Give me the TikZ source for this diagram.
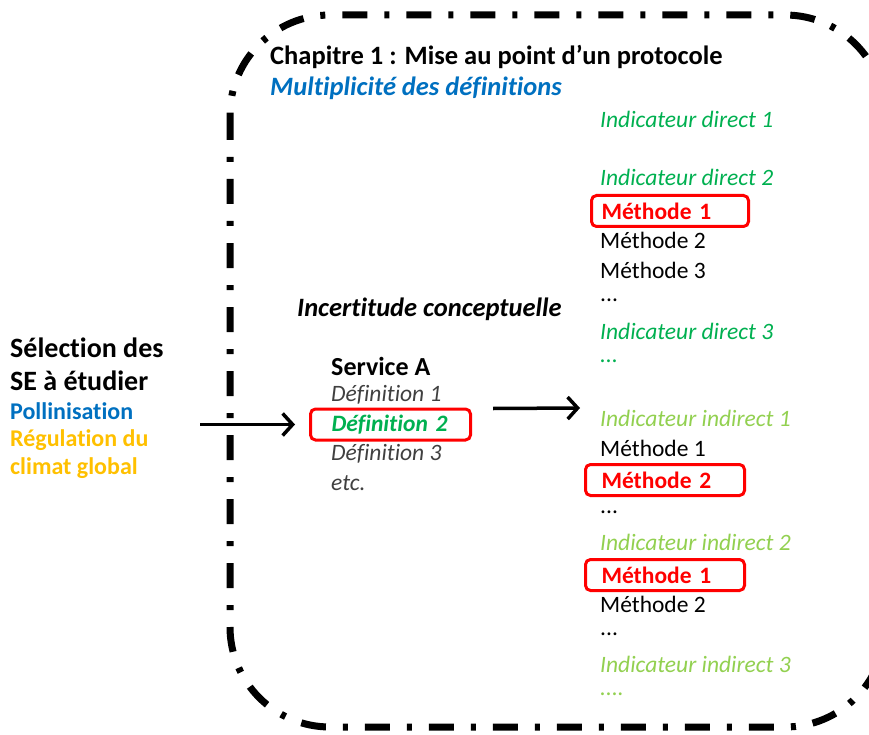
\documentclass[tikz,border=0pt]{standalone}
\usepackage{fontspec}
\setmainfont{Carlito}[Ligatures=NoCommon]
\usetikzlibrary{arrows.meta,calc}

\definecolor{pollblue}{HTML}{0070C0}
\definecolor{climorange}{HTML}{FFC000}
\definecolor{dirgreen}{HTML}{00B050}
\definecolor{indgreen}{HTML}{92D050}
\definecolor{boxred}{HTML}{FF0000}
\definecolor{defgray}{HTML}{404040}

\newcommand{\txtsize}{\fontsize{23.5}{28}\selectfont}
\newcommand{\headsize}{\fontsize{26.5}{31}\selectfont}

\tikzset{
  lbl/.style={anchor=west, inner sep=0pt, text=black, font=\txtsize},
  direct/.style={lbl, text=dirgreen, font=\txtsize\itshape},
  indirect/.style={lbl, text=indgreen, font=\txtsize\itshape},
  redbox/.style={draw=boxred, line width=3pt, rounded corners=5pt, anchor=west,
    align=left, minimum height=31pt, inner ysep=0pt, text=boxred, font=\txtsize\bfseries},
  arrow/.style={line width=3.5pt, -{Straight Barb[length=10pt,width=22pt]}},
  frame/.style={line width=7pt, dash pattern=on 25pt off 17pt on 5pt off 17pt,
    rounded corners=100pt}
}

\begin{document}
\begin{tikzpicture}[x=1pt,y=-1pt]

	\def\xa{10}
	\def\xb{270}
	\def\xc{331}
	\def\xd{600}

	\useasboundingbox (0,0) rectangle (869,735);

	%frame
	\draw[frame] (230,15) rectangle (885,727);

	%selection
	\node[lbl, font=\fontsize{28}{33}\selectfont\bfseries] (sel1) at (\xa,348) {Sélection des};
	\node[lbl, font=\fontsize{28}{33}\selectfont\bfseries] (sel2) at (\xa,381) {SE à étudier};
	\node[lbl, text=pollblue, font=\fontsize{24}{29}\selectfont\bfseries] (poll) at (\xa,411) {Pollinisation};
	\node[lbl, text=climorange, font=\fontsize{24}{29}\selectfont\bfseries] (reg1) at (\xa,440) {Régulation du};
	\node[lbl, text=climorange, font=\fontsize{24}{29}\selectfont\bfseries] (reg2) at (\xa,468) {climat global};

	%chapter
	\node[lbl, font=\headsize\bfseries] (chap) at (\xb,57) {Chapitre 1 : Mise au point d’un protocole};
	\node[lbl, text=pollblue, font=\headsize\bfseries\itshape] (multi) at (\xb,88) {Multiplicité des définitions};
	\node[lbl, font=\headsize\bfseries\itshape] (incert) at (297,309) {Incertitude conceptuelle};

	%service
	\node[lbl, font=\fontsize{26}{31}\selectfont\bfseries] (serv) at (\xc,366) {Service A};
	\node[lbl, text=defgray, font=\txtsize\itshape] (def1) at (\xc,395) {Définition 1};
	\node[redbox, inner xsep=21pt, text width=118pt, text=dirgreen, font=\txtsize\bfseries\itshape] (def2) at (309,424.5) {Définition 2};
	\node[lbl, text=defgray, font=\txtsize\itshape] (def3) at (\xc,454) {Définition 3};
	\node[lbl, text=defgray, font=\txtsize\itshape] (etc) at (\xc,483) {etc.};

	%direct indicators
	\node[direct] (d1) at (\xd,119) {Indicateur direct 1};
	\node[direct] (d2) at (\xd,177) {Indicateur direct 2};
	\node[redbox, inner xsep=10pt, text width=137pt] (d2m1) at (\xd-10,211) {Méthode 1};
	\node[lbl] (d2m2) at (\xd,240) {Méthode 2};
	\node[lbl] (d2m3) at (\xd,270) {Méthode 3};
	\node[lbl] (d2m4) at (\xd,300) {...};
	\node[direct] (d3) at (\xd,331) {Indicateur direct 3};
	\node[direct] (d3m) at (\xd,361) {...};

	%indirect indicators
	\node[indirect] (i1) at (\xd,418) {Indicateur indirect 1};
	\node[lbl] (i1m1) at (\xd,448) {Méthode 1};
	\node[redbox, inner xsep=16pt, text width=127pt] (i1m2) at (\xd-16,480) {Méthode 2};
	\node[lbl] (i1m3) at (\xd,512) {...};
	\node[indirect] (i2) at (\xd,542) {Indicateur indirect 2};
	\node[redbox, inner xsep=16pt, text width=127pt] (i2m1) at (\xd-16,575) {Méthode 1};
	\node[lbl] (i2m2) at (\xd,604) {Méthode 2};
	\node[lbl] (i2m3) at (\xd,634) {...};
	\node[indirect] (i3) at (\xd,664) {Indicateur indirect 3};
	\node[indirect] (i3m) at (\xd,694) {....};

	%arrows
	\coordinate (start) at (200,424.5);
	\draw[arrow, shorten >=14pt] (start) -- (def2.west);
	\draw[arrow] ($(def2.east)+(21,-16)$) -- ($(i1.west)+(-20,-10)$);

\end{tikzpicture}
\end{document}
